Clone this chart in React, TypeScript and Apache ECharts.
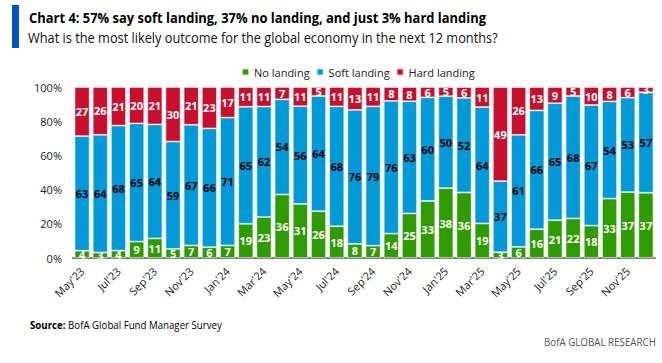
import React, { useEffect, useRef } from "react";
import * as echarts from "echarts";

const months = [
  "May'23","Jun'23","Jul'23","Aug'23","Sep'23","Oct'23","Nov'23","Dec'23",
  "Jan'24","Feb'24","Mar'24","Apr'24","May'24","Jun'24","Jul'24","Aug'24",
  "Sep'24","Oct'24","Nov'24","Dec'24","Jan'25","Feb'25","Mar'25","Apr'25",
  "May'25","Jun'25","Jul'25","Aug'25","Sep'25","Oct'25","Nov'25","Dec'25",
];
const noLanding = [4,3,4,9,11,5,7,6,7,19,23,36,31,26,18,8,7,14,25,33,38,36,19,3,6,16,21,22,18,33,37,37];
const softLanding = [63,64,68,65,64,59,67,66,71,65,62,54,56,64,68,76,79,76,63,60,50,52,64,37,61,66,65,68,67,54,53,57];
const hardLanding = [27,26,21,20,21,30,21,23,17,11,11,7,11,5,11,13,11,8,8,6,5,6,11,49,26,13,9,5,10,8,6,3];
const yTicks = [0, 20, 40, 60, 80, 100];

const TITLE = "Chart 4: 57% say soft landing, 37% no landing, and just 3% hard landing";
const SUBTITLE = "What is the most likely outcome for the global economy in the next 12 months?";
const SOURCE_B = "Source:";
const SOURCE_N = " BofA Global Fund Manager Survey";
const BRAND = "BofA GLOBAL RESEARCH";

const GREEN = "#2e9c00";
const BLUE = "#009ad9";
const RED = "#c8102e";
const FONT = "'Open Sans', 'Noto Sans', sans-serif";

function measure(text: string, font: string): number {
  const c = document.createElement("canvas").getContext("2d");
  if (!c) return text.length * 7;
  c.font = font;
  return c.measureText(text).width;
}

export default function App() {
  const ref = useRef<HTMLDivElement>(null);
  useEffect(() => {
    if (!ref.current) return;
    const chart = echarts.init(ref.current, undefined, { renderer: "svg" });
    const totals = months.map((_, i) => noLanding[i] + softLanding[i] + hardLanding[i]);
    const norm = (arr: number[]) => arr.map((v, i) => (v / totals[i]) * 100);
    const mk = (name: string, arr: number[], color: string, labelColor: string) => ({
      name,
      type: "bar",
      stack: "total",
      barCategoryGap: "17%",
      data: norm(arr),
      itemStyle: { color, borderColor: "rgba(255,255,255,0.7)", borderWidth: 0.8 },
      label: {
        show: true,
        position: "inside",
        color: labelColor,
        fontFamily: FONT,
        fontWeight: "bold",
        fontSize: 11,
        lineHeight: 12,
        formatter: (p: any) => String(arr[p.dataIndex]),
      },
    });

    const titleW = measure(TITLE, `bold 15px ${FONT}`);
    const subW = measure(SUBTITLE, `14px ${FONT}`);
    const srcW = measure(SOURCE_B, `bold 11px ${FONT}`) + measure(SOURCE_N, `11px ${FONT}`);
    const brandW = measure(BRAND, `11px ${FONT}`);

    chart.setOption({
      animation: false,
      backgroundColor: "#fff",
      grid: { left: 73, right: 7, top: 87, bottom: 105, containLabel: false },
      legend: {
        left: 236,
        top: 64,
        padding: [2, 5, 2, 5],
        icon: "rect",
        itemWidth: 7,
        itemHeight: 7,
        itemGap: 6,
        textStyle: { fontFamily: FONT, fontSize: 11, lineHeight: 12, color: "#222" },
        data: ["No landing", "Soft landing", "Hard landing"],
      },
      xAxis: {
        type: "category",
        data: months,
        axisLine: { lineStyle: { color: "#808080", width: 2 } },
        axisTick: { show: false },
        axisLabel: {
          interval: 1,
          rotate: 45,
          fontFamily: FONT,
          fontSize: 11,
          color: "#222",
          margin: 11,
        },
      },
      yAxis: {
        type: "value",
        min: yTicks[0],
        max: yTicks[yTicks.length - 1],
        interval: yTicks[1] - yTicks[0],
        splitLine: { show: false },
        axisLine: { show: false },
        axisTick: { show: false },
        axisLabel: {
          formatter: (v: number) => v + "%",
          fontFamily: FONT,
          fontSize: 11,
          color: "#222",
          margin: 11,
        },
      },
      series: [
        mk("No landing", noLanding, GREEN, "#fff"),
        mk("Soft landing", softLanding, BLUE, "#000"),
        mk("Hard landing", hardLanding, RED, "#fff"),
      ],
      graphic: [
        { type: "rect", x: 12, y: 5, shape: { width: 7, height: 43 }, style: { fill: "#0052c4" } },
        {
          type: "text",
          x: 29,
          y: 17.5,
          scaleX: 457 / titleW,
          style: {
            text: TITLE,
            fontFamily: FONT,
            fontWeight: "bold",
            fontSize: 15,
            fill: "#000",
            verticalAlign: "middle",
          },
        },
        {
          type: "text",
          x: 28,
          y: 37.5,
          scaleX: 470 / subW,
          style: {
            text: SUBTITLE,
            fontFamily: FONT,
            fontSize: 14,
            fill: "#111",
            verticalAlign: "middle",
          },
        },
        {
          type: "text",
          x: 30,
          y: 325,
          scaleX: 192 / srcW,
          style: {
            rich: {
              b: { fontFamily: FONT, fontWeight: "bold", fontSize: 11, fill: "#000" },
              n: { fontFamily: FONT, fontSize: 11, fill: "#000" },
            },
            text: `{b|${SOURCE_B}}{n|${SOURCE_N}}`,
            verticalAlign: "middle",
          },
        },
        {
          type: "text",
          x: 544,
          y: 342,
          scaleX: 112 / brandW,
          style: {
            text: BRAND,
            fontFamily: FONT,
            fontSize: 11,
            fill: "#555",
            verticalAlign: "middle",
          },
        },
      ],
    });
    return () => chart.dispose();
  }, []);
  return (
    <div
      ref={ref}
      style={{ position: "fixed", left: 0, top: 0, width: 662, height: 363, background: "#fff" }}
    />
  );
}
